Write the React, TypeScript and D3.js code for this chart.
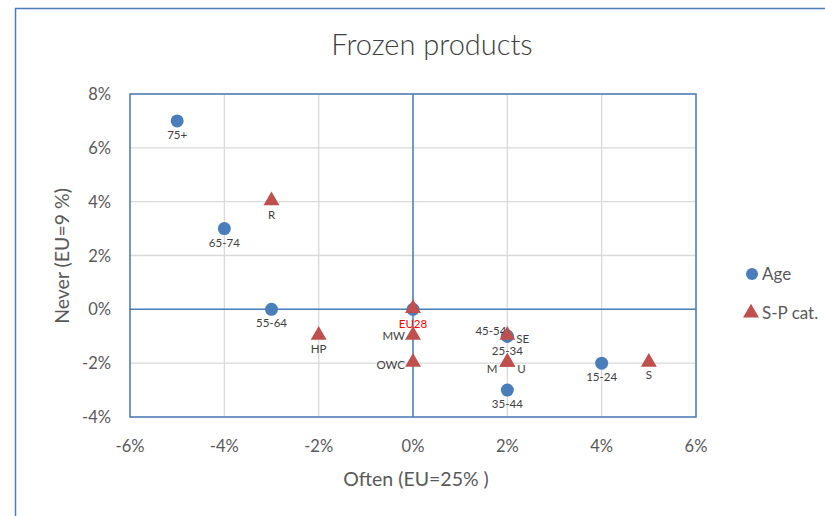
import React from "react";
import * as d3 from "d3";

const ageLabels = ["75+", "65-74", "55-64", "45-54", "25-34", "35-44", "15-24", "EU28"];
const ageX = [-5, -4, -3, 2, 2, 2, 4, 0];
const ageY = [7, 3, 0, -1, -1, -3, -2, 0];

const spLabels = ["R", "HP", "EU28", "MW", "OWC", "SE", "M", "U", "S"];
const spX = [-3, -2, 0, 0, 0, 2, 2, 2, 5];
const spY = [4, -1, 0, -1, -2, -1, -2, -2, -2];

const xTicks = [-6, -4, -2, 0, 2, 4, 6];
const yTicks = [-4, -2, 0, 2, 4, 6, 8];

// label placement: [dx, dy, anchor]
const agePos: Record<string, [number, number, string]> = {
  "75+": [0, 18, "middle"],
  "65-74": [0, 18, "middle"],
  "55-64": [0, 18, "middle"],
  "45-54": [-1, -1, "end"],
  "25-34": [0, 19, "middle"],
  "35-44": [0, 18, "middle"],
  "15-24": [0, 18, "middle"],
};
const spPos: Record<string, [number, number, string]> = {
  R: [0, 17, "middle"],
  HP: [0, 17, "middle"],
  EU28: [0, 19, "middle"],
  MW: [-8, 4, "end"],
  OWC: [-8, 6, "end"],
  SE: [9, 7, "start"],
  M: [-10, 10, "end"],
  U: [10, 10, "start"],
  S: [0, 16, "middle"],
};

const BLUE = "#4A7EBB";
const RED = "#C0504D";
const FONT = "Lato, 'Open Sans', sans-serif";

export default function App() {
  const W = 825, H = 516;
  const x = d3.scaleLinear().domain([-6, 6]).range([130, 696]);
  const y = d3.scaleLinear().domain([-4, 8]).range([417, 94]);
  const tri = d3.symbol().type(d3.symbolTriangle).size(110)();
  return (
    <svg width={W} height={H} style={{ position: "absolute", left: 0, top: 0, background: "#fff" }}>
      <rect x={0} y={0} width={W} height={H} fill="#fff" />
      {/* outer frame */}
      <line x1={15.5} y1={8} x2={15.5} y2={H} stroke={BLUE} strokeWidth={1.5} />
      <line x1={15} y1={8.5} x2={W} y2={8.5} stroke={BLUE} strokeWidth={1.5} />
      <text x={432} y={55} textAnchor="middle" fontFamily={FONT} fontWeight={300} fontSize={29} fill="#404040">Frozen products</text>
      {/* gridlines */}
      {xTicks.map((t) => (
        <line key={"gx" + t} x1={x(t)} x2={x(t)} y1={y(8)} y2={y(-4)} stroke="#D9D9D9" strokeWidth={1.3} />
      ))}
      {yTicks.map((t) => (
        <line key={"gy" + t} x1={x(-6)} x2={x(6)} y1={y(t)} y2={y(t)} stroke="#D9D9D9" strokeWidth={1.3} />
      ))}
      {/* zero axes */}
      <line x1={x(0)} x2={x(0)} y1={y(8)} y2={y(-4)} stroke={BLUE} strokeWidth={1.5} />
      <line x1={x(-6)} x2={x(6)} y1={y(0)} y2={y(0)} stroke={BLUE} strokeWidth={1.5} />
      {/* plot border */}
      <rect x={x(-6)} y={y(8)} width={x(6) - x(-6)} height={y(-4) - y(8)} fill="none" stroke={BLUE} strokeWidth={1.5} />
      {/* tick labels */}
      {xTicks.map((t) => (
        <text key={"tx" + t} x={x(t)} y={452} textAnchor="middle" fontFamily={FONT} fontSize={16.5} fill="#595959">{t + "%"}</text>
      ))}
      {yTicks.map((t) => (
        <text key={"ty" + t} x={111} y={y(t) + 6} textAnchor="end" fontFamily={FONT} fontSize={16.5} fill="#595959">{t + "%"}</text>
      ))}
      <text x={416} y={486} textAnchor="middle" fontFamily={FONT} fontSize={19.5} fill="#595959">Often (EU=25% )</text>
      <text transform={`translate(69,256) rotate(-90)`} textAnchor="middle" fontFamily={FONT} fontSize={19.5} fill="#595959">Never (EU=9 %)</text>
      {/* age series */}
      {ageLabels.map((l, i) => (
        <circle key={"ac" + l} cx={x(ageX[i])} cy={y(ageY[i])} r={6.5} fill={BLUE} />
      ))}
      {ageLabels.map((l, i) => {
        const p = agePos[l];
        if (!p) return null;
        return (
          <text key={"al" + l} x={x(ageX[i]) + p[0]} y={y(ageY[i]) + p[1]} textAnchor={p[2] as any} fontFamily={FONT} fontSize={11.5} fill="#404040">{l}</text>
        );
      })}
      {/* S-P series */}
      {spLabels.map((l, i) => (
        <path key={"sp" + l} d={tri!} transform={`translate(${x(spX[i])},${y(spY[i]) - 1})`} fill={RED} />
      ))}
      {spLabels.map((l, i) => {
        const p = spPos[l];
        return (
          <text key={"sl" + l} x={x(spX[i]) + p[0]} y={y(spY[i]) + p[1]} textAnchor={p[2] as any} fontFamily={FONT} fontSize={11.5} fill={l === "EU28" ? "#FF0000" : "#404040"}>{l}</text>
        );
      })}
      {/* legend */}
      <circle cx={752} cy={274} r={6} fill={BLUE} />
      <text x={762} y={280} fontFamily={FONT} fontSize={17} fill="#595959">Age</text>
      <path d={tri!} transform={`translate(751,313)`} fill={RED} />
      <text x={762} y={319} fontFamily={FONT} fontSize={17} fill="#595959">S-P cat.</text>
    </svg>
  );
}
